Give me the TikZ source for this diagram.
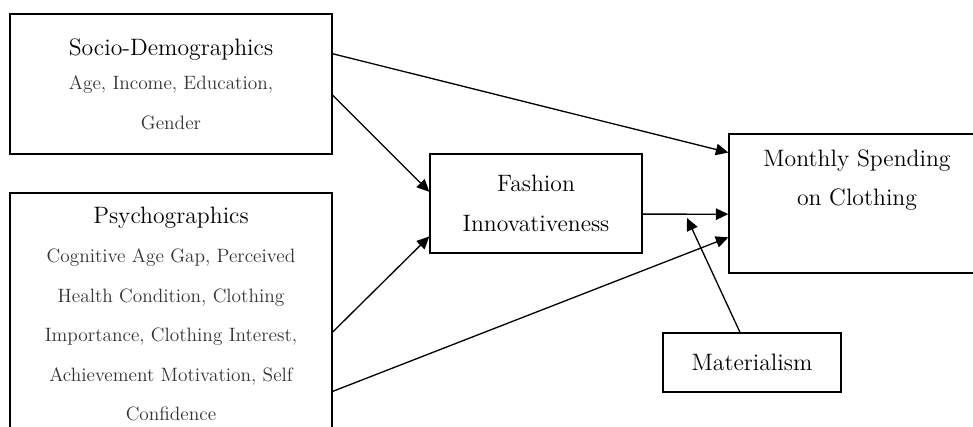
\documentclass[tikz,border=0pt]{standalone}
\usetikzlibrary{arrows.meta,calc}

\tikzset{
  box/.style={draw, line width=0.8pt, align=center, inner sep=0pt,
              font=\fontsize{13.5}{22.5}\selectfont},
  link/.style={-{Triangle[length=2.5mm,width=2.3mm]}, line width=0.75pt}
}
\newcommand{\subitems}[1]{{\fontsize{11}{22.5}\selectfont\color{black!80}#1}}

\begin{document}
\begin{tikzpicture}[x=0.02cm, y=-0.02cm]

  % page frame, the psychographics box runs past the bottom edge
  \path[use as bounding box, clip] (0,0) rectangle (973,426);

  % Antecedents on the left
  \node[box, minimum width=6.44cm, minimum height=2.8cm] (socio) at (171,84)
    {Socio-Demographics\\[-3pt]
     \subitems{Age, Income, Education,}\\
     \subitems{Gender}};
  \node[box, minimum width=6.44cm, minimum height=4.84cm] (psycho) at (171,314)
    {Psychographics\\
     \subitems{Cognitive Age Gap, Perceived}\\
     \subitems{Health Condition, Clothing}\\
     \subitems{Importance, Clothing Interest,}\\
     \subitems{Achievement Motivation, Self}\\
     \subitems{Confidence}};

  % Mediator, outcome and moderator
  \node[box, minimum width=4.24cm, minimum height=1.98cm] (fashion) at (536,203.5)
    {Fashion\\Innovativeness};
  \node[box, minimum width=5.12cm, minimum height=2.78cm] (spending) at (857,203.5)
    {Monthly Spending\\on Clothing\\\strut};
  \node[box, minimum width=3.56cm, minimum height=1.18cm] (materialism) at (752,362.5)
    {Materialism};

  \coordinate (joint) at (687,218);

  % Paths
  \draw[link] ($(socio.north east)!0.286!(socio.south east)$)
           -- ($(spending.north west)!0.137!(spending.south west)$);
  \draw[link] ($(socio.north east)!0.579!(socio.south east)$)
           -- ($(fashion.north west)!0.384!(fashion.south west)$);
  \draw[link] ($(psycho.north east)!0.574!(psycho.south east)$)
           -- ($(fashion.north west)!0.828!(fashion.south west)$);
  \draw[link] ($(psycho.north east)!0.818!(psycho.south east)$)
           -- ($(spending.north west)!0.741!(spending.south west)$);
  \draw[link] ($(fashion.north east)!0.606!(fashion.south east)$)
           -- ($(spending.north west)!0.576!(spending.south west)$);
  \draw[link] ($(materialism.north west)!0.433!(materialism.north east)$) -- (joint);

\end{tikzpicture}
\end{document}
